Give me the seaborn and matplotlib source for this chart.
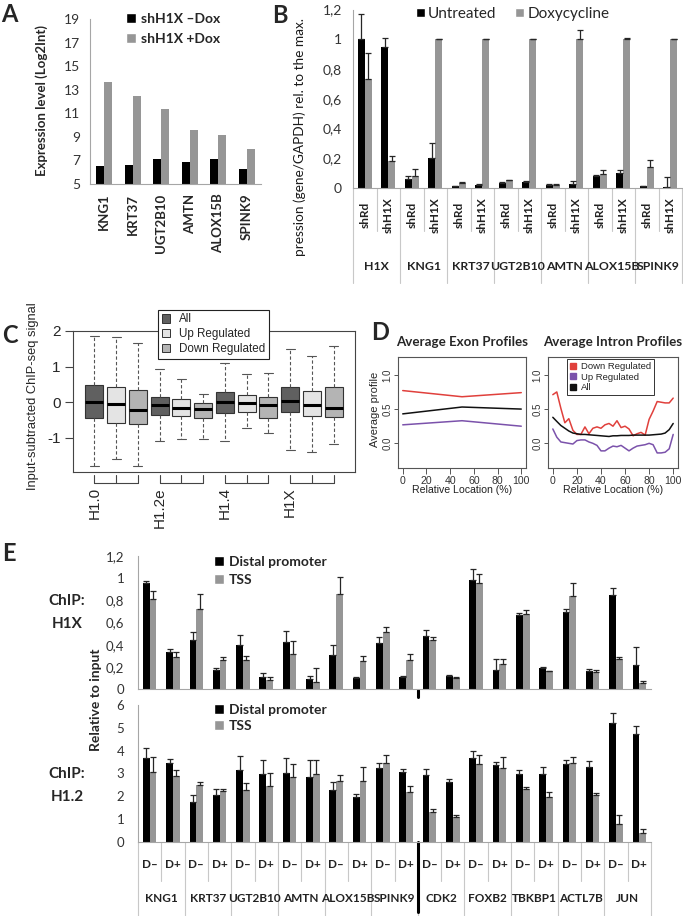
import numpy as np
import pandas as pd
import matplotlib
matplotlib.use("Agg")
import matplotlib.pyplot as plt
import seaborn as sns
from matplotlib.lines import Line2D
from matplotlib.patches import Patch
from matplotlib.transforms import blended_transform_factory

# ---------------- data ----------------
# A: microarray expression
a_genes = ["KNG1", "KRT37", "UGT2B10", "AMTN", "ALOX15B", "SPINK9"]
a_minus_dox = [6.5, 6.65, 7.1, 6.9, 7.15, 6.3]
a_plus_dox = [13.65, 12.45, 11.35, 9.6, 9.2, 7.95]

# B: qPCR relative to max
b_genes = ["H1X", "KNG1", "KRT37", "UGT2B10", "AMTN", "ALOX15B", "SPINK9"]
b_lines = ["shRd", "shH1X"]
b_untreated = [1.0, 0.945, 0.06, 0.2, 0.011, 0.022, 0.033, 0.038, 0.022, 0.03, 0.078, 0.1, 0.011, 0.007]
b_untreated_err = [0.17, 0.065, 0.018, 0.1, 0.004, 0.006, 0.004, 0.006, 0.006, 0.02, 0.012, 0.018, 0.003, 0.064]
b_dox = [0.73, 0.183, 0.078, 1.0, 0.033, 1.0, 0.051, 1.0, 0.02, 1.0, 0.096, 1.0, 0.138, 1.0]
b_dox_err = [0.18, 0.034, 0.049, 0.003, 0.004, 0.003, 0.003, 0.003, 0.006, 0.06, 0.022, 0.01, 0.047, 0.003]

# C: ChIP-seq signal boxplots (q1, median, q3, lower whisker, upper whisker)
c_variants = ["H1.0", "H1.2e", "H1.4", "H1X"]
c_sets = ["All", "Up Regulated", "Down Regulated"]
c_q1 = [-0.43, -0.57, -0.61, -0.36, -0.40, -0.44, -0.29, -0.28, -0.43, -0.28, -0.38, -0.42]
c_med = [0.0, -0.05, -0.23, -0.07, -0.15, -0.20, 0.0, -0.02, -0.07, 0.03, -0.07, -0.17]
c_q3 = [0.49, 0.42, 0.33, 0.15, 0.10, -0.03, 0.28, 0.21, 0.15, 0.43, 0.32, 0.43]
c_lo = [-1.80, -1.60, -1.80, -1.10, -1.03, -1.03, -1.10, -0.72, -0.86, -1.35, -1.40, -1.17]
c_hi = [1.87, 1.84, 1.65, 0.92, 0.65, 0.22, 1.11, 0.78, 0.82, 1.50, 1.30, 1.57]

# D: average profiles
exon_x = [0, 50, 100]
exon_down = [0.77, 0.68, 0.74]
exon_all = [0.43, 0.53, 0.50]
exon_up = [0.27, 0.33, 0.25]
intron_x = [0, 3.3, 6.7, 10, 13.3, 16.7, 20, 23.3, 26.7, 30, 33.3, 36.7, 40, 43.3, 46.7, 50,
            53.3, 56.7, 60, 63.3, 66.7, 70, 73.3, 76.7, 80, 83.3, 86.7, 90, 93.3, 96.7, 100]
intron_down = [0.71, 0.75, 0.51, 0.30, 0.36, 0.19, 0.13, 0.13, 0.24, 0.14, 0.22, 0.24, 0.22, 0.27, 0.29, 0.25,
               0.33, 0.23, 0.25, 0.21, 0.11, 0.14, 0.16, 0.12, 0.35, 0.47, 0.61, 0.60, 0.59, 0.59, 0.66]
intron_up = [0.21, 0.09, 0.02, 0.01, 0.0, -0.01, 0.04, 0.05, 0.05, 0.02, 0.0, -0.03, -0.11, -0.11, -0.07, -0.04,
             -0.05, -0.03, -0.07, -0.11, -0.07, -0.04, -0.03, -0.02, 0.0, -0.02, -0.14, -0.14, -0.13, -0.08, 0.13]
intron_all = [0.38, 0.32, 0.26, 0.22, 0.18, 0.15, 0.14, 0.13, 0.13, 0.125, 0.12, 0.115, 0.11, 0.105, 0.10, 0.11,
              0.11, 0.115, 0.115, 0.115, 0.12, 0.12, 0.12, 0.12, 0.12, 0.125, 0.13, 0.135, 0.15, 0.20, 0.29]

# E: ChIP-qPCR relative to input
e_genes = ["KNG1", "KRT37", "UGT2B10", "AMTN", "ALOX15B", "SPINK9", "CDK2", "FOXB2", "TBKBP1", "ACTL7B", "JUN"]
e_dox = ["D–", "D+"]
h1x_distal = [0.96, 0.335, 0.44, 0.17, 0.40, 0.11, 0.42, 0.09, 0.305, 0.095, 0.415,
              0.11, 0.48, 0.114, 0.98, 0.17, 0.665, 0.19, 0.695, 0.16, 0.85, 0.215]
h1x_distal_err = [0.01, 0.025, 0.07, 0.02, 0.09, 0.035, 0.10, 0.025, 0.095, 0.015, 0.05,
                  0.005, 0.05, 0.01, 0.10, 0.10, 0.025, 0.01, 0.025, 0.02, 0.06, 0.16]
h1x_tss = [0.81, 0.29, 0.725, 0.265, 0.26, 0.08, 0.315, 0.065, 0.86, 0.25, 0.51,
           0.26, 0.44, 0.10, 0.96, 0.23, 0.68, 0.16, 0.84, 0.15, 0.275, 0.054]
h1x_tss_err = [0.07, 0.04, 0.13, 0.02, 0.04, 0.03, 0.115, 0.12, 0.155, 0.05, 0.05,
               0.06, 0.03, 0.005, 0.08, 0.04, 0.035, 0.005, 0.12, 0.02, 0.015, 0.02]
h12_distal = [3.67, 3.47, 1.76, 2.07, 3.16, 2.96, 3.02, 2.86, 2.27, 1.99, 3.24,
              3.08, 2.93, 2.61, 3.66, 3.38, 3.0, 3.0, 3.42, 3.27, 5.22, 4.71]
h12_distal_err = [0.43, 0.17, 0.28, 0.23, 0.6, 0.62, 0.65, 0.74, 0.34, 0.11, 0.21,
                  0.11, 0.26, 0.13, 0.34, 0.13, 0.16, 0.27, 0.18, 0.28, 0.41, 0.36]
h12_tss = [3.05, 2.87, 2.49, 2.24, 2.27, 2.47, 2.86, 2.98, 2.65, 2.68, 3.48,
           2.18, 1.3, 1.1, 3.42, 3.26, 2.3, 1.97, 3.45, 2.04, 0.79, 0.38]
h12_tss_err = [0.67, 0.29, 0.12, 0.09, 0.33, 0.57, 0.56, 0.62, 0.28, 0.62, 0.31,
               0.26, 0.15, 0.1, 0.4, 0.46, 0.11, 0.2, 0.28, 0.12, 0.41, 0.18]

# ---------------- layout helpers ----------------
W, H = 683, 916
BLACK = "#000000"
GREY = "#969696"
AXGREY = "#a6a6a6"
SEP = "#c8c8c8"
SANS_R = ["Liberation Sans", "DejaVu Sans"]

sns.set_style("white")
plt.rcParams["font.family"] = ["Lato", "DejaVu Sans"]

fig = plt.figure(figsize=(W / 100, H / 100), dpi=100)


def fx(x):
    return x / W


def fy(y):
    return 1 - y / H


def add_ax(x0, y0, x1, y1):
    return fig.add_axes([x0 / W, 1 - y1 / H, (x1 - x0) / W, (y1 - y0) / H])


def paired_bars(ax, keys, s1, s2, names, width):
    df = pd.DataFrame({
        "cat": list(keys) * 2,
        "val": list(s1) + list(s2),
        "series": [names[0]] * len(keys) + [names[1]] * len(keys),
    })
    sns.barplot(data=df, x="cat", y="val", hue="series", order=keys, hue_order=names,
                palette=[BLACK, GREY], width=width, saturation=1, errorbar=None,
                linewidth=0, legend=False, ax=ax)
    ax.set_xlim(-0.5, len(keys) - 0.5)
    ax.set_xlabel("")
    ax.set_ylabel("")


def up_errors(ax, vals, errs, offset):
    x = np.arange(len(vals)) + offset
    ax.errorbar(x, vals, yerr=[np.zeros(len(vals)), errs], fmt="none", ecolor="#262626",
                elinewidth=0.9, capsize=2.2, capthick=0.9)


def excel_axes(ax):
    for s in ["top", "right"]:
        ax.spines[s].set_visible(False)
    for s in ["left", "bottom"]:
        ax.spines[s].set_color(AXGREY)
        ax.spines[s].set_linewidth(0.8)


def legend_px(ax, labels, x, y, size, weight="bold", spacing=0.5):
    handles = [Patch(facecolor=BLACK), Patch(facecolor=GREY)]
    ax.legend(handles, labels, loc="upper left", bbox_to_anchor=(fx(x), fy(y)),
              bbox_transform=fig.transFigure, frameon=False, borderpad=0, borderaxespad=0,
              handlelength=0.75, handleheight=0.75, handletextpad=0.3, labelspacing=spacing,
              prop={"size": size, "weight": weight})


# ---------------- panel A ----------------
axA = add_ax(90, 19, 261, 184)
paired_bars(axA, a_genes, a_minus_dox, a_plus_dox, ["shH1X –Dox", "shH1X +Dox"], 0.56)
excel_axes(axA)
axA.set_ylim(5, 19)
axA.set_yticks(range(5, 20, 2))
axA.tick_params(axis="y", length=4, color=AXGREY, labelsize=10, labelcolor="#333333", pad=3)
axA.set_xticks(range(len(a_genes)))
axA.set_xticklabels(a_genes, rotation=90, fontweight="bold", fontsize=9.5)
axA.tick_params(axis="x", length=0, pad=7)
axA.set_xticks(np.arange(len(a_genes) + 1) - 0.5, minor=True)
axA.tick_params(axis="x", which="minor", length=4, color=AXGREY)
legend_px(axA, ["shH1X –Dox", "shH1X +Dox"], 126, 13, 10, spacing=0.55)
fig.text(fx(42), fy(101), "Expression level (Log2Int)", rotation=90, ha="center", va="center",
         fontsize=9.5, fontweight="bold")
fig.text(fx(1), fy(3), "A", ha="left", va="top", fontsize=17, fontweight="bold")

# ---------------- panel B ----------------
axB = add_ax(353, 9.5, 682, 188)
b_keys = [f"{g}|{l}" for g in b_genes for l in b_lines]
paired_bars(axB, b_keys, b_untreated, b_dox, ["Untreated", "Doxycycline"], 0.6)
up_errors(axB, b_untreated, b_untreated_err, -0.15)
up_errors(axB, b_dox, b_dox_err, 0.15)
excel_axes(axB)
axB.set_ylim(0, 1.2)
axB.set_yticks([0, 0.2, 0.4, 0.6, 0.8, 1.0, 1.2], ["0", "0,2", "0,4", "0,6", "0,8", "1", "1,2"])
axB.tick_params(axis="y", length=0, labelsize=10, labelcolor="#333333", pad=8)
axB.set_xticks([])
tB = blended_transform_factory(axB.transData, fig.transFigure)
for k in range(len(b_keys) + 1):
    y_end = 283 if k % 2 == 0 else 231
    axB.plot([k - 0.5, k - 0.5], [fy(188), fy(y_end)], transform=tB, color=SEP, lw=0.8, clip_on=False)
for i, key in enumerate(b_keys):
    axB.text(i, fy(215), key.split("|")[1], transform=tB, rotation=90, ha="center", va="center",
             fontsize=8.5, fontweight="bold", color="#222222")
for g, gene in enumerate(b_genes):
    axB.text(2 * g + 0.5, fy(266), gene, transform=tB, ha="center", va="center",
             fontsize=8.8, fontweight="bold", color="#222222")
axB.legend([Patch(facecolor=BLACK), Patch(facecolor=GREY)], ["Untreated", "Doxycycline"],
           loc="upper left", bbox_to_anchor=(fx(416), fy(7)), bbox_transform=fig.transFigure,
           frameon=False, ncol=2, borderpad=0, borderaxespad=0, handlelength=0.6, handleheight=0.6,
           handletextpad=0.2, columnspacing=1.2, prop={"size": 11})
fig.text(fx(300), fy(137), "pression (gene/GAPDH) rel. to the max.", rotation=90, ha="center",
         va="center", fontsize=9.8, color="#1a1a1a")
fig.text(fx(272), fy(4), "B", ha="left", va="top", fontsize=17, fontweight="bold")

# ---------------- panel C ----------------
axC = add_ax(73, 331, 355, 472)
c_colors = ["#606060", "#e4e4e4", "#b4b4b4"]
stats = []
for i in range(len(c_med)):
    stats.append(dict(med=c_med[i], q1=c_q1[i], q3=c_q3[i], whislo=c_lo[i], whishi=c_hi[i], fliers=[]))
pos = np.arange(1, len(c_med) + 1)
bp = axC.bxp(stats, positions=pos, widths=0.82, patch_artist=True, showfliers=False,
             boxprops=dict(edgecolor="#333333", linewidth=0.8),
             medianprops=dict(color="black", linewidth=2.2),
             whiskerprops=dict(color="#555555", linewidth=0.8, linestyle=(0, (3, 2))),
             capprops=dict(color="#555555", linewidth=0.8))
for i, box in enumerate(bp["boxes"]):
    box.set_facecolor(c_colors[i % 3])
axC.set_xlim(0.02, 12.98)
axC.set_ylim(-1.96, 2.0)
for s in axC.spines.values():
    s.set_color("#444444")
    s.set_linewidth(0.8)
axC.set_xticks([])
axC.set_yticks([-1, 0, 1, 2], ["-1", "0", "1", "2"], fontfamily=SANS_R, fontsize=11)
axC.tick_params(axis="y", left=True, length=6, width=0.8, color="#444444", pad=3)
tC = blended_transform_factory(axC.transData, fig.transFigure)
for g, name in enumerate(c_variants):
    p = pos[3 * g:3 * g + 3]
    axC.plot([p[0], p[-1]], [fy(483), fy(483)], transform=tC, color="#444444", lw=0.8, clip_on=False)
    for xp in p:
        axC.plot([xp, xp], [fy(483), fy(475)], transform=tC, color="#444444", lw=0.8, clip_on=False)
    axC.text(p[0], fy(487), name, transform=tC, rotation=90, ha="center", va="top",
             fontsize=11, fontfamily=SANS_R)
c_handles = [Patch(facecolor=c, edgecolor="#333333", linewidth=0.7) for c in c_colors]
axC.legend(c_handles, c_sets, loc="upper left", bbox_to_anchor=(fx(158), fy(310)),
           bbox_transform=fig.transFigure, frameon=True, fancybox=False, edgecolor="#222222",
           framealpha=1, borderpad=0.3, borderaxespad=0, handlelength=0.7, handleheight=0.7,
           handletextpad=0.8, labelspacing=0.25, prop={"family": SANS_R, "size": 8.4})
axC.get_legend().get_frame().set_linewidth(0.8)
fig.text(fx(33), fy(396), "Input-subtracted ChIP-seq signal", rotation=90, ha="center",
         va="center", fontsize=9.3, fontfamily=SANS_R)
fig.text(fx(2), fy(324), "C", ha="left", va="top", fontsize=17, fontweight="bold")

# ---------------- panel D ----------------
d_palette = {"Down Regulated": "#e0403c", "Up Regulated": "#7b52ab", "All": "#111111"}


def profile_panel(ax, xs, down, up, allv, title):
    df = pd.DataFrame({
        "x": list(xs) * 3,
        "y": list(down) + list(up) + list(allv),
        "group": ["Down Regulated"] * len(xs) + ["Up Regulated"] * len(xs) + ["All"] * len(xs),
    })
    sns.lineplot(data=df, x="x", y="y", hue="group", palette=d_palette, linewidth=1.1,
                 legend=False, ax=ax)
    ax.set_xlim(-4, 104)
    ax.set_ylim(-0.36, 1.26)
    ax.set_xlabel("")
    ax.set_ylabel("")
    for s in ax.spines.values():
        s.set_visible(True)
        s.set_color("#555555")
        s.set_linewidth(0.8)
    ax.set_xticks([0, 20, 40, 60, 80, 100], ["0", "20", "40", "60", "80", "100"],
                  fontfamily=SANS_R, fontsize=7.6)
    ax.set_yticks([0.0, 0.5, 1.0], ["0.0", "0.5", "1.0"], fontfamily=SANS_R, fontsize=7,
                  rotation=90, va="center")
    ax.tick_params(axis="x", bottom=True, length=4, width=0.7, color="#555555",
                   labelcolor="#333333", pad=2)
    ax.tick_params(axis="y", left=True, length=3, width=0.7, color="#555555",
                   labelcolor="#333333", pad=1)
    ax.set_title(title, fontsize=9.6, fontweight="bold", pad=8)
    ax.text(0.5, fy(490), "Relative Location (%)",
            transform=blended_transform_factory(ax.transAxes, fig.transFigure),
            ha="center", va="center", fontsize=7.6, fontfamily=SANS_R, color="#222222")


axD1 = add_ax(398, 357, 526, 468)
profile_panel(axD1, exon_x, exon_down, exon_up, exon_all, "Average Exon Profiles")
axD2 = add_ax(548, 357, 678, 468)
profile_panel(axD2, intron_x, intron_down, intron_up, intron_all, "Average Intron Profiles")
d_handles = [Line2D([], [], marker="s", linestyle="none", markersize=4, color=d_palette[k])
             for k in ["Down Regulated", "Up Regulated", "All"]]
axD2.legend(d_handles, ["Down Regulated", "Up Regulated", "All"], loc="upper left",
            bbox_to_anchor=(fx(567), fy(359)), bbox_transform=fig.transFigure, frameon=True,
            fancybox=False, edgecolor="#333333", framealpha=1, borderpad=0.35, borderaxespad=0,
            handlelength=0.6, handletextpad=0.5, labelspacing=0.15,
            prop={"family": SANS_R, "size": 6.8})
axD2.get_legend().get_frame().set_linewidth(0.7)
fig.text(fx(375), fy(409), "Average profile", rotation=90, ha="center", va="center",
         fontsize=8, fontfamily=SANS_R)
fig.text(fx(371), fy(321), "D", ha="left", va="top", fontsize=17, fontweight="bold")

# ---------------- panel E ----------------
e_keys = [f"{g}|{d}" for g in e_genes for d in e_dox]
split = 11.5  # between SPINK9 and CDK2

axE1 = add_ax(138, 556, 651, 689)
paired_bars(axE1, e_keys, h1x_distal, h1x_tss, ["Distal promoter", "TSS"], 0.58)
up_errors(axE1, h1x_distal, h1x_distal_err, -0.145)
up_errors(axE1, h1x_tss, h1x_tss_err, 0.145)
excel_axes(axE1)
axE1.set_ylim(0, 1.2)
axE1.set_yticks([0, 0.2, 0.4, 0.6, 0.8, 1.0, 1.2], ["0", "0,2", "0,4", "0,6", "0,8", "1", "1,2"])
axE1.tick_params(axis="y", length=0, labelsize=9.5, labelcolor="#333333", pad=10)
axE1.set_xticks(np.arange(len(e_keys) + 1) - 0.5)
axE1.set_xticklabels([])
axE1.tick_params(axis="x", length=4, color=AXGREY)
tE1 = blended_transform_factory(axE1.transData, fig.transFigure)
axE1.plot([split, split], [fy(690), fy(697)], transform=tE1, color="black", lw=2.2, clip_on=False)
legend_px(axE1, ["Distal promoter", "TSS"], 214, 556, 10, spacing=0.45)

axE2 = add_ax(138, 705, 651, 842)
paired_bars(axE2, e_keys, h12_distal, h12_tss, ["Distal promoter", "TSS"], 0.58)
up_errors(axE2, h12_distal, h12_distal_err, -0.145)
up_errors(axE2, h12_tss, h12_tss_err, 0.145)
excel_axes(axE2)
axE2.set_ylim(0, 6)
axE2.set_yticks(range(0, 7))
axE2.tick_params(axis="y", length=0, labelsize=9.5, labelcolor="#333333", pad=10)
axE2.set_xticks([])
legend_px(axE2, ["Distal promoter", "TSS"], 214, 704, 10, spacing=0.3)
tE2 = blended_transform_factory(axE2.transData, fig.transFigure)
for k in range(len(e_keys) + 1):
    y_end = 916 if k % 2 == 0 else 881
    axE2.plot([k - 0.5, k - 0.5], [fy(842), fy(y_end)], transform=tE2, color=SEP, lw=0.8, clip_on=False)
axE2.plot([split, split], [fy(842), fy(912)], transform=tE2, color="black", lw=2.2, clip_on=False)
for i, key in enumerate(e_keys):
    axE2.text(i, fy(864), key.split("|")[1], transform=tE2, ha="center", va="center",
              fontsize=8.5, fontweight="bold", color="#222222")
for g, gene in enumerate(e_genes):
    axE2.text(2 * g + 0.5, fy(899), gene, transform=tE2, ha="center", va="center",
              fontsize=8.5, fontweight="bold", color="#222222")

fig.text(fx(96), fy(700), "Relative to input", rotation=90, ha="center", va="center",
         fontsize=10, fontweight="bold")
for txt, yy in [("ChIP:", 601), ("H1X", 624), ("ChIP:", 774), ("H1.2", 797)]:
    fig.text(fx(67), fy(yy), txt, ha="center", va="center", fontsize=11, fontweight="bold")
fig.text(fx(2), fy(542), "E", ha="left", va="top", fontsize=17, fontweight="bold")

fig.savefig("out.png", dpi=100)
